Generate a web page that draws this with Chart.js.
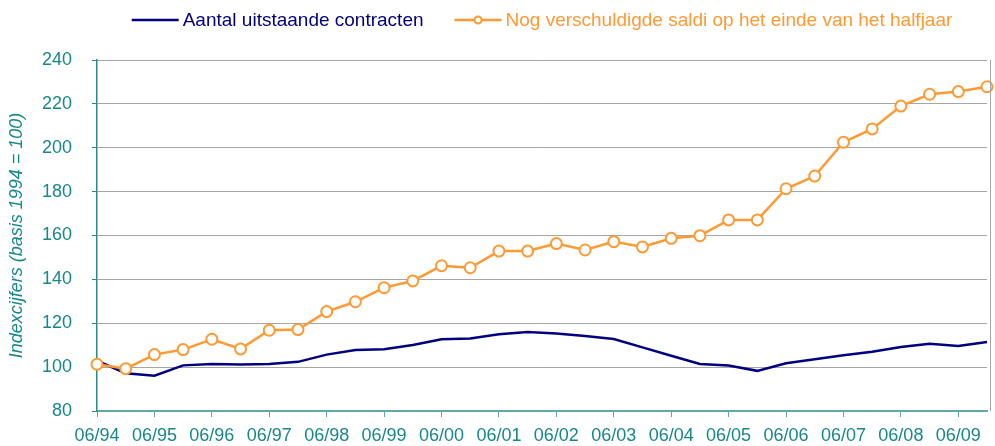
<!DOCTYPE html>
<html>
<head>
<meta charset="utf-8">
<script src="https://cdn.jsdelivr.net/npm/chart.js@4"></script>
<style>
  html, body { margin: 0; padding: 0; background: #fff; }
  #wrap { width: 995px; height: 446px; }
</style>
</head>
<body>
<div id="wrap"><canvas id="chart-index"></canvas></div>
<script>
const periodes = ["06/94", "12/94", "06/95", "12/95", "06/96", "12/96", "06/97", "12/97",
  "06/98", "12/98", "06/99", "12/99", "06/00", "12/00", "06/01", "12/01",
  "06/02", "12/02", "06/03", "12/03", "06/04", "12/04", "06/05", "12/05",
  "06/06", "12/06", "06/07", "12/07", "06/08", "12/08", "06/09", "12/09"];

const contracten = [102.9, 97.2, 96.1, 100.8, 101.4, 101.2, 101.4, 102.4,
  105.7, 107.8, 108.1, 110.1, 112.7, 113.1, 115.0, 116.0,
  115.3, 114.2, 112.8, 109.0, 105.2, 101.4, 100.7, 98.3,
  101.8, 103.6, 105.4, 107.0, 109.2, 110.7, 109.6, 111.5];

const saldi = [101.3, 99.3, 105.7, 108.0, 112.7, 108.3, 116.8, 117.1,
  125.3, 129.8, 136.2, 139.3, 146.2, 145.3, 152.9, 152.9,
  156.3, 153.4, 157.2, 154.8, 158.7, 159.9, 167.1, 167.1,
  181.3, 187.1, 202.5, 208.6, 219.0, 224.4, 225.6, 227.8];

const yMin = 80;
const yMax = 240;
const yStap = 20;

const teal = "#17888a";
const fontNaam = "'Liberation Sans', Arial, sans-serif";

// eigen legende boven de grafiek, gecentreerd op het tekengebied
const legendePlugin = {
  id: "legende",
  afterDraw(chart) {
    const ctx = chart.ctx;
    const area = chart.chartArea;
    const sets = chart.data.datasets;
    const lijn = 47, gat = 4, tussen = 31, y = 20;

    ctx.save();
    ctx.font = "19px " + fontNaam;
    ctx.textBaseline = "middle";

    let totaal = 0;
    sets.forEach((ds, i) => {
      totaal += lijn + gat + ctx.measureText(ds.label).width;
      if (i > 0) totaal += tussen;
    });

    let x = (area.left + area.right) / 2 - totaal / 2;
    sets.forEach((ds) => {
      ctx.strokeStyle = ds.borderColor;
      ctx.lineWidth = 2.5;
      ctx.beginPath();
      ctx.moveTo(x, y);
      ctx.lineTo(x + lijn, y);
      ctx.stroke();
      if (ds.pointRadius > 0) {
        ctx.beginPath();
        ctx.arc(x + lijn / 2, y, 3.5, 0, Math.PI * 2);
        ctx.fillStyle = "#fff";
        ctx.fill();
        ctx.lineWidth = 2;
        ctx.stroke();
      }
      ctx.fillStyle = ds.borderColor;
      ctx.fillText(ds.label, x + lijn + gat, y + 1);
      x += lijn + gat + ctx.measureText(ds.label).width + tussen;
    });

    // rechter kader
    ctx.strokeStyle = "#a6a6a6";
    ctx.lineWidth = 1;
    ctx.beginPath();
    ctx.moveTo(Math.round(area.right) + 3.5, area.top);
    ctx.lineTo(Math.round(area.right) + 3.5, area.bottom);
    ctx.stroke();
    ctx.restore();
  }
};

const dataIndex = {
  labels: periodes,
  datasets: [
    {
      label: "Aantal uitstaande contracten",
      data: contracten,
      borderColor: "#000080",
      backgroundColor: "#000080",
      borderWidth: 2.5,
      pointRadius: 0,
      tension: 0,
      order: 1,
    },
    {
      label: "Nog verschuldigde saldi op het einde van het halfjaar",
      data: saldi,
      borderColor: "#ff9933",
      backgroundColor: "#ffffff",
      borderWidth: 2.5,
      pointRadius: 5.5,
      pointBorderWidth: 2,
      pointBackgroundColor: "#ffffff",
      tension: 0,
      order: 0,
    },
  ],
};

const configIndex = {
  type: "line",
  data: dataIndex,
  plugins: [legendePlugin],
  options: {
    responsive: true,
    maintainAspectRatio: false,
    animation: false,
    clip: false,
    layout: {
      padding: { top: 60, right: 4, bottom: 0, left: 0 },
    },
    plugins: {
      legend: { display: false },
      tooltip: { enabled: false },
    },
    scales: {
      x: {
        type: "category",
        offset: false,
        afterFit(scale) { scale.height = 35; },
        grid: {
          drawOnChartArea: false,
          drawTicks: true,
          tickLength: 6,
          tickColor: (c) => (c.index % 2 === 0 ? "#5fa8a3" : "rgba(0,0,0,0)"),
        },
        border: { color: "#5fa8a3", width: 2 },
        ticks: {
          autoSkip: false,
          maxRotation: 0,
          padding: 8,
          color: teal,
          font: { family: fontNaam, size: 18 },
          callback: function (value, index) {
            const lab = this.getLabelForValue(value);
            return lab.startsWith("06") ? lab : "";
          },
        },
      },
      y: {
        min: yMin,
        max: yMax,
        afterFit(scale) { scale.width = 97; },
        grid: {
          color: "#a6a6a6",
          lineWidth: 1,
          tickLength: 5,
          tickColor: "#2a8a86",
        },
        border: { color: "#2a8a86", width: 1.5 },
        ticks: {
          stepSize: yStap,
          padding: 20,
          color: teal,
          font: { family: fontNaam, size: 18 },
        },
        title: {
          display: true,
          text: "Indexcijfers (basis 1994 = 100)",
          color: teal,
          padding: { top: 6, bottom: 4 },
          font: { family: fontNaam, size: 18, style: "italic" },
        },
      },
    },
  },
};

new Chart(document.getElementById("chart-index"), configIndex);
</script>
</body>
</html>
